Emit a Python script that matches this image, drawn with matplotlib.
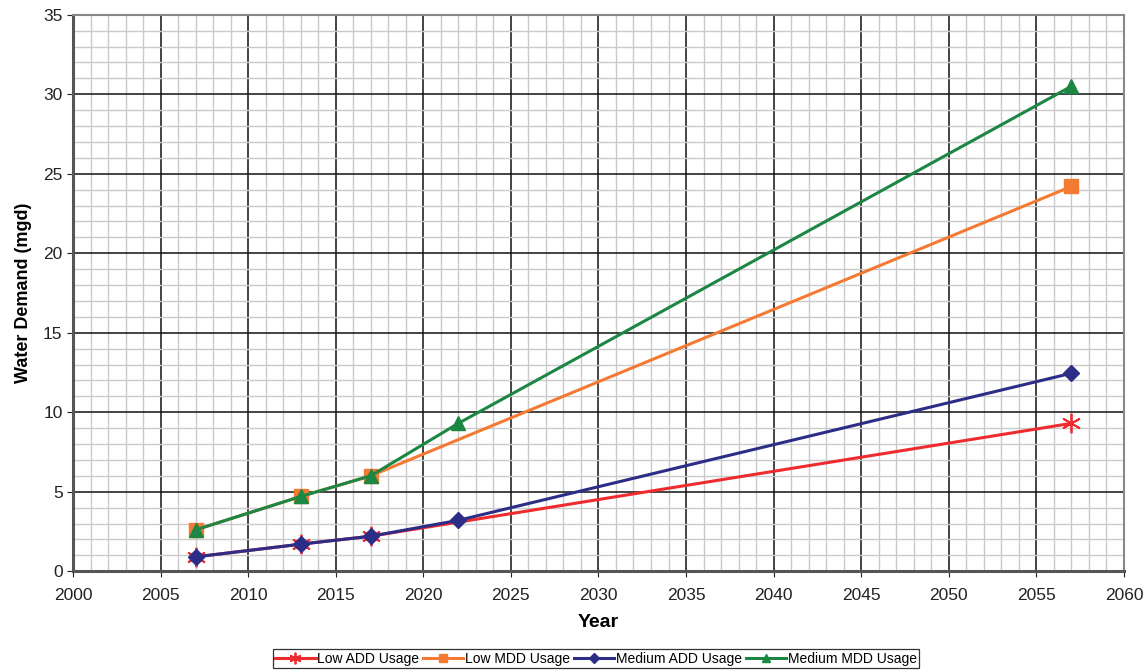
import matplotlib as mpl
mpl.use('Agg')
import matplotlib.pyplot as plt
from matplotlib.ticker import MultipleLocator

plt.rcParams['font.family'] = ['Liberation Sans', 'DejaVu Sans']

# demand projections (mgd) by year
years_low = [2007, 2013, 2017, 2057]
years_med = [2007, 2013, 2017, 2022, 2057]
low_add = [0.9, 1.7, 2.2, 9.3]
low_mdd = [2.6, 4.7, 6.0, 24.2]
medium_add = [0.9, 1.7, 2.2, 3.2, 12.45]
medium_mdd = [2.6, 4.7, 6.0, 9.3, 30.5]

fig = plt.figure(figsize=(11.46, 6.72), dpi=100)
ax = fig.add_axes([0.0637, 0.150, 0.917, 0.828])

ax.plot(years_low, low_add, color='#ee2b2e', lw=2.2, marker=(6, 2, 0),
        markersize=14, markeredgewidth=1.3, label='Low ADD Usage', zorder=3)
ax.plot(years_low, low_mdd, color='#f47a33', lw=2.2, marker='s',
        markersize=10, label='Low MDD Usage', zorder=3)
ax.plot(years_med, medium_add, color='#2c2d86', lw=2.2, marker='D',
        markersize=8, label='Medium ADD Usage', zorder=4)
ax.plot(years_med, medium_mdd, color='#1b8742', lw=2.2, marker='^',
        markersize=10, label='Medium MDD Usage', zorder=5)

ax.set_xlim(2000, 2060)
ax.set_ylim(0, 35)
ax.xaxis.set_major_locator(MultipleLocator(5))
ax.xaxis.set_minor_locator(MultipleLocator(1))
ax.yaxis.set_major_locator(MultipleLocator(5))
ax.yaxis.set_minor_locator(MultipleLocator(1))

ax.grid(which='minor', color='#cacaca', lw=1.0)
ax.grid(which='major', color='#111111', lw=1.1)
ax.set_axisbelow(True)

for side in ['left', 'bottom']:
    ax.spines[side].set_color('#555555')
    ax.spines[side].set_linewidth(2.2)
for side in ['top', 'right']:
    ax.spines[side].set_color('#888888')
    ax.spines[side].set_linewidth(1.5)

ax.tick_params(which='major', direction='out', length=4, labelsize=12.5, colors='#222222')
ax.tick_params(which='minor', length=0)
ax.tick_params(axis='x', pad=8)

ax.set_xlabel('Year', fontsize=14, fontweight='bold', labelpad=8)
ax.set_ylabel('Water Demand (mgd)', fontsize=13, fontweight='bold', labelpad=8)

leg = fig.legend(loc='lower center', bbox_to_anchor=(0.52, -0.005), ncol=4,
                 fontsize=10, frameon=True, fancybox=False, edgecolor='black',
                 handlelength=2.9, handletextpad=0.1, columnspacing=0.3,
                 borderpad=0.2, markerscale=0.6)
leg.get_frame().set_linewidth(0.9)

fig.savefig('out.png', dpi=100)
